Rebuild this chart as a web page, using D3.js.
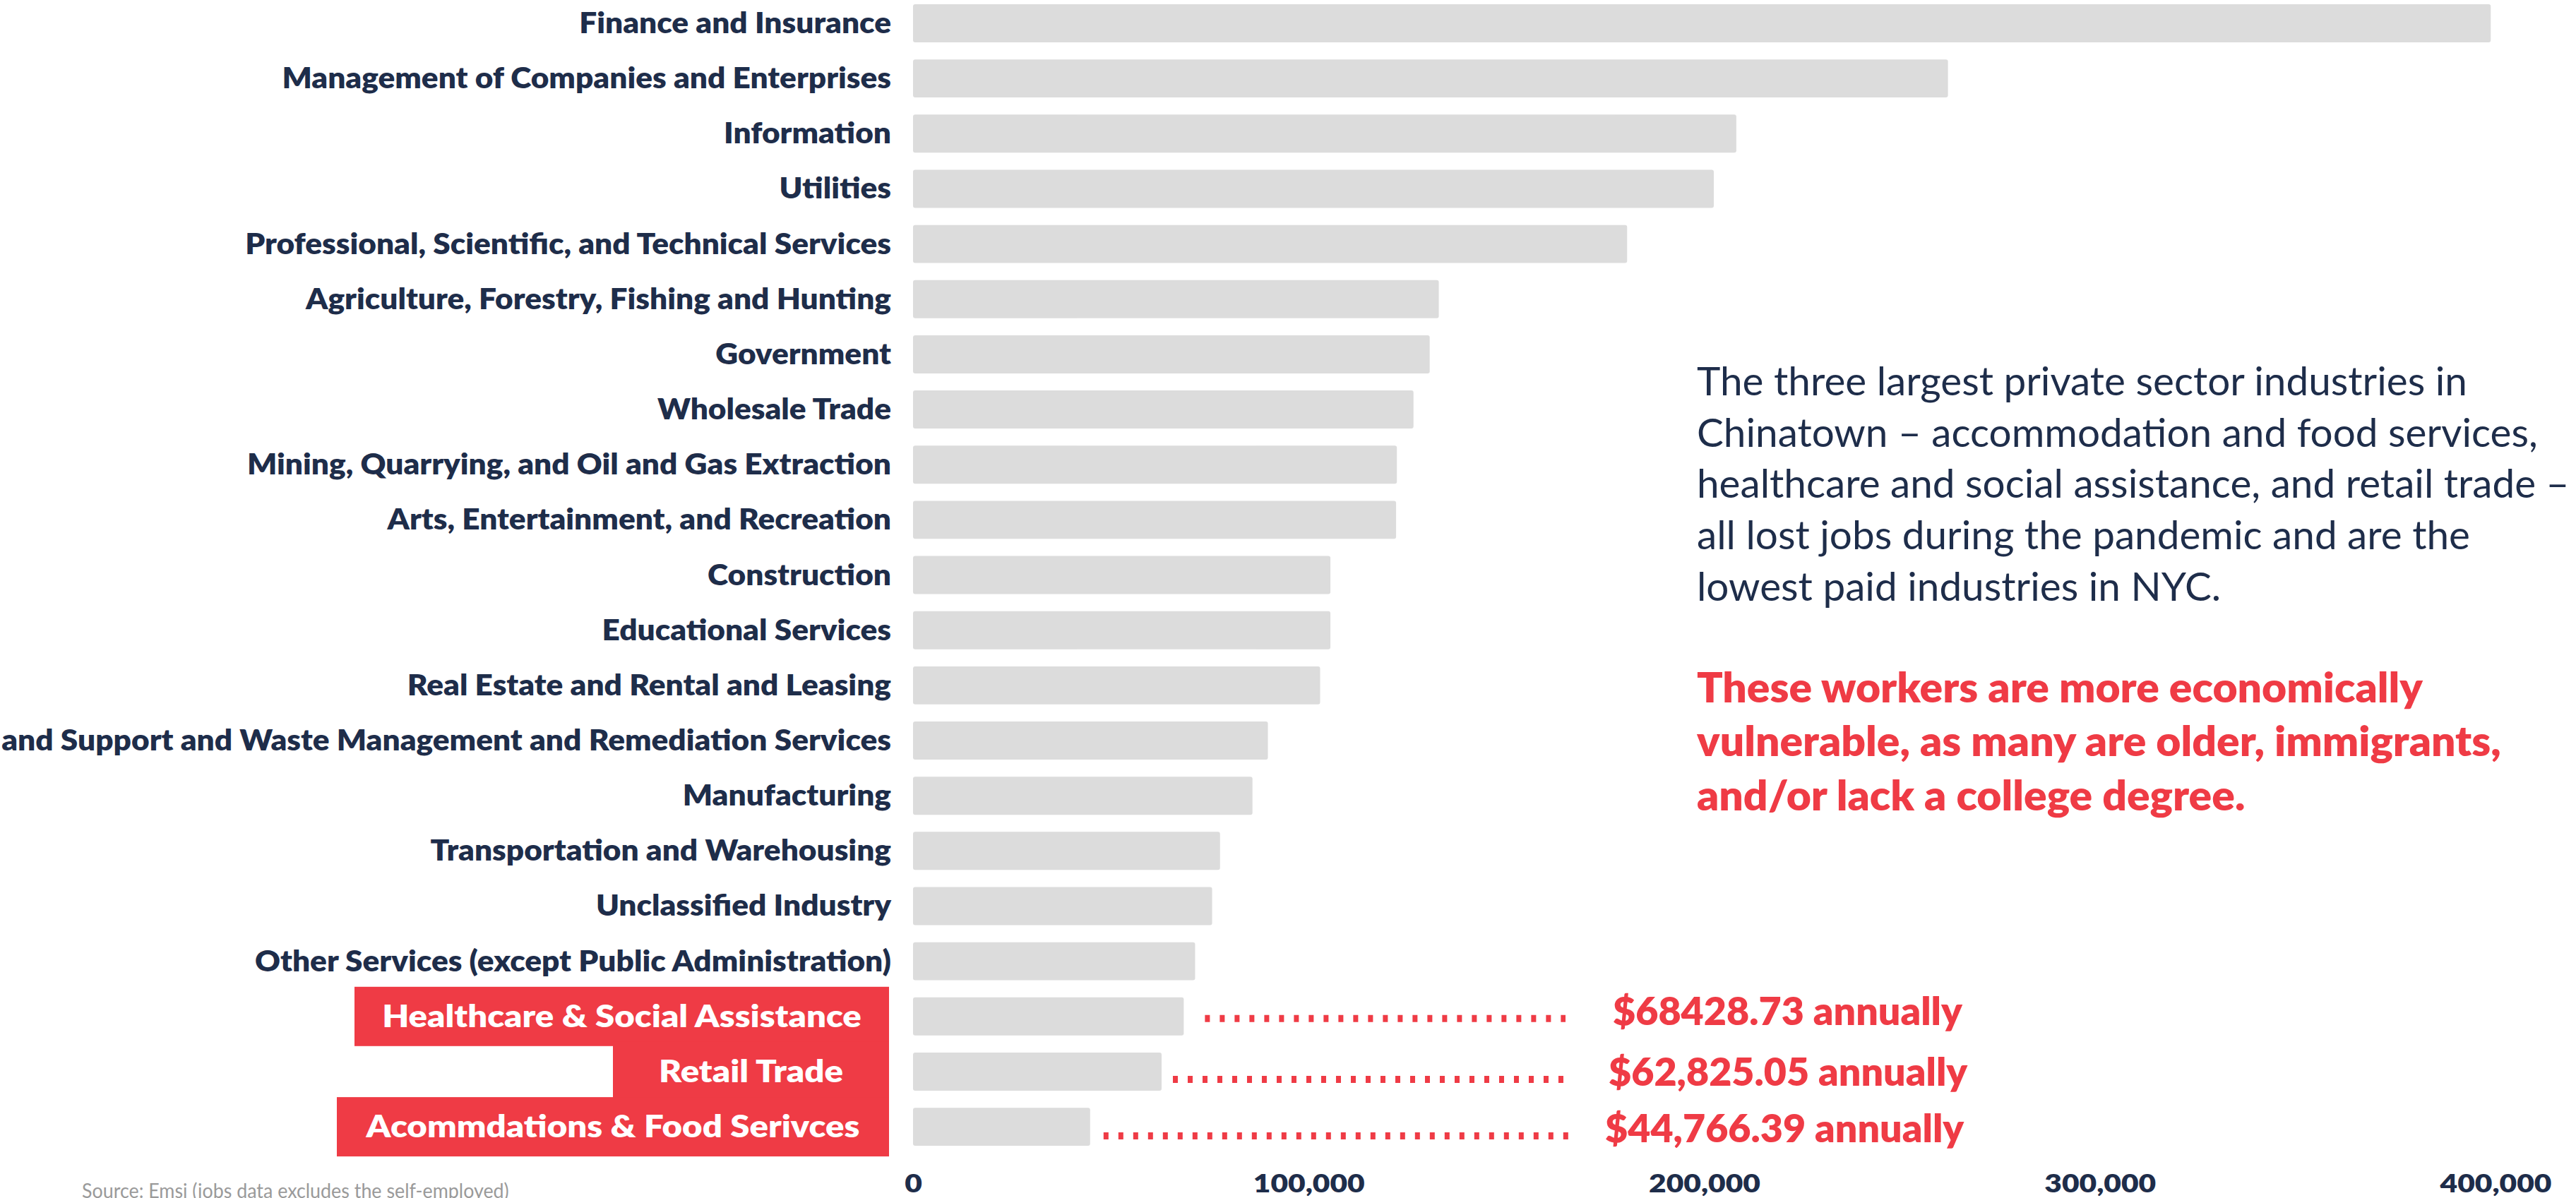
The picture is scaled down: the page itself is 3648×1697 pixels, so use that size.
<!DOCTYPE html>
<html>
<head>
<meta charset="utf-8">
<script src="https://cdn.jsdelivr.net/npm/d3@7"></script>
<style>
  body { margin: 0; background: #fff; overflow: hidden; }
  text { font-family: Lato, "Open Sans", sans-serif; }
</style>
</head>
<body>
<svg id="chart"></svg>
<script>
// average annual wage by industry
const industries = [
    "Finance and Insurance",
    "Management of Companies and Enterprises",
    "Information",
    "Utilities",
    "Professional, Scientific, and Technical Services",
    "Agriculture, Forestry, Fishing and Hunting",
    "Government",
    "Wholesale Trade",
    "Mining, Quarrying, and Oil and Gas Extraction",
    "Arts, Entertainment, and Recreation",
    "Construction",
    "Educational Services",
    "Real Estate and Rental and Leasing",
    "Administrative and Support and Waste Management and Remediation Services",
    "Manufacturing",
    "Transportation and Warehousing",
    "Unclassified Industry",
    "Other Services (except Public Administration)",
    "Health Care and Social Assistance",
    "Retail Trade",
    "Accommodation and Food Services"
];
const avgWages = [
    398800, 261600, 208100, 202400, 180500, 132900, 130600, 126500, 122300, 122100,
    105500, 105500, 102900, 89700, 85800, 77600, 75600, 71300,
    68428.73, 62825.05, 44766.39
];
const highlightLabels = ["Healthcare & Social Assistance", "Retail Trade", "Acommdations & Food Serivces"];
const wageLabels = ["$68428.73 annually", "$62,825.05 annually", "$44,766.39 annually"];
const xTicks = [0, 100000, 200000, 300000, 400000];
const noteLines = [
    "The three largest private sector industries in",
    "Chinatown \u2013 accommodation and food services,",
    "healthcare and social assistance, and retail trade \u2013",
    "all lost jobs during the pandemic and are the",
    "lowest paid industries in NYC."
];
const alertLines = [
    "These workers are more economically",
    "vulnerable, as many are older, immigrants,",
    "and/or lack a college degree."
];
const sourceText = "Source: Emsi (jobs data excludes the self-employed)";

let width = 3648;
let height = 1697;
let navy = "#1e2d4a";
let red = "#ef3b45";
let nHi = 3; // last rows get the red boxes

let svg = d3.select("#chart")
    .attr("width", width)
    .attr("height", height);

let x = d3.scaleLinear()
    .domain([0, 400000])
    .range([1293, 3534]);

let y = d3.scaleBand()
    .domain(industries)
    .range([-6.1, 1635.2])
    .paddingInner(0.31)
    .paddingOuter(0.155);

let mid = d => y(d) + y.bandwidth() / 2;

// stretch or squeeze a group of texts so the reference one has the wanted width
function fitWidth(sel, refIndex, target) {
    let natural = sel.nodes()[refIndex].getComputedTextLength();
    let k = target / natural;
    sel.each(function() {
        let t = d3.select(this);
        let x0 = +t.attr("x") || 0;
        t.attr("transform", `translate(${x0},0) scale(${k},1) translate(${-x0},0)`);
    });
}

// bars
svg.append("g")
    .selectAll("rect")
    .data(industries)
    .join("rect")
    .attr("x", x(0))
    .attr("y", d => y(d))
    .attr("width", (d, i) => x(avgWages[i]) - x(0))
    .attr("height", y.bandwidth())
    .attr("rx", 3)
    .attr("fill", "#dcdcdc");

// category labels (the highlighted rows get their own boxed label)
let plainRows = industries.slice(0, industries.length - nHi);
let labels = svg.append("g")
    .selectAll("text")
    .data(plainRows)
    .join("text")
    .attr("x", 1262)
    .attr("y", d => mid(d) + 14)
    .attr("text-anchor", "end")
    .attr("font-size", 41)
    .attr("font-weight", 800)
    .attr("fill", navy)
    .text(d => d);
fitWidth(labels, 1, 863);

// x axis
let axis = svg.append("g")
    .attr("transform", "translate(0,1664)")
    .call(d3.axisBottom(x).tickValues(xTicks).tickFormat(d3.format(",")).tickSize(0).tickPadding(0));
axis.select(".domain").remove();
let tickText = axis.selectAll("text")
    .attr("font-size", 35)
    .attr("font-weight", 800)
    .attr("font-family", "Lato, 'Open Sans', sans-serif")
    .attr("fill", navy);
fitWidth(tickText, 1, 158);

// highlighted rows: red boxes, dotted leaders and wage labels
let hiRows = industries.slice(industries.length - nHi);
let hiWages = avgWages.slice(avgWages.length - nHi);
let boxLeft = [502, 868, 477];
let boxRight = 1259;
let dotGap = [30, 16, 19];
let dotEnd = [2217, 2224, 2224];
let dotDy = [3, 11, 13];
let wageX = [2284, 2278, 2273];
let wageDy = [12, 20, 22];

let hi = svg.append("g");
hi.selectAll("rect")
    .data(hiRows)
    .join("rect")
    .attr("x", (d, i) => boxLeft[i])
    .attr("y", d => mid(d) - 42)
    .attr("width", (d, i) => boxRight - boxLeft[i])
    .attr("height", 84)
    .attr("fill", red);

let boxText = hi.selectAll("text.box")
    .data(hiRows)
    .join("text")
    .attr("class", "box")
    .attr("x", (d, i) => (boxLeft[i] + boxRight) / 2)
    .attr("y", d => mid(d) + 15)
    .attr("text-anchor", "middle")
    .attr("font-size", 43)
    .attr("font-weight", 800)
    .attr("fill", "#fff")
    .text((d, i) => highlightLabels[i]);
fitWidth(boxText, 0, 679);

hi.selectAll("line")
    .data(hiRows)
    .join("line")
    .attr("x1", (d, i) => x(hiWages[i]) + dotGap[i])
    .attr("x2", (d, i) => dotEnd[i])
    .attr("y1", (d, i) => mid(d) + dotDy[i])
    .attr("y2", (d, i) => mid(d) + dotDy[i])
    .attr("stroke", red)
    .attr("stroke-width", 10)
    .attr("stroke-dasharray", "7,14");

let wageText = hi.selectAll("text.wage")
    .data(hiRows)
    .join("text")
    .attr("class", "wage")
    .attr("x", (d, i) => wageX[i])
    .attr("y", (d, i) => mid(d) + wageDy[i])
    .attr("font-size", 54)
    .attr("font-weight", 800)
    .attr("fill", red)
    .text((d, i) => wageLabels[i]);
fitWidth(wageText, 0, 495);

// annotation
let note = svg.append("g")
    .selectAll("text")
    .data(noteLines)
    .join("text")
    .attr("x", 2403)
    .attr("y", (d, i) => 560 + i * 72.7)
    .attr("font-size", 56)
    .attr("fill", navy)
    .text(d => d);
fitWidth(note, 0, 1091);

let alert = svg.append("g")
    .selectAll("text")
    .data(alertLines)
    .join("text")
    .attr("x", 2403)
    .attr("y", (d, i) => 995 + i * 76.5)
    .attr("font-size", 58)
    .attr("font-weight", 800)
    .attr("fill", red)
    .text(d => d);
fitWidth(alert, 0, 1028);

// source
let src = svg.append("text")
    .attr("x", 116)
    .attr("y", 1697)
    .attr("font-size", 28)
    .attr("fill", "#9a9a9a")
    .text(sourceText);
fitWidth(src, 0, 605);
</script>
</body>
</html>
